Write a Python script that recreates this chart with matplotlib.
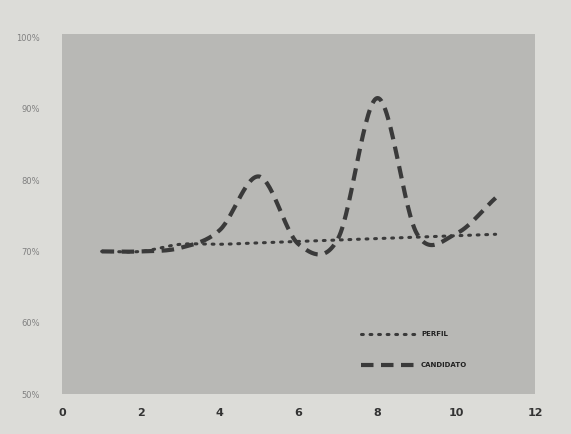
import numpy as np
import matplotlib
matplotlib.use("Agg")
import matplotlib.pyplot as plt
from matplotlib.ticker import FuncFormatter

x_vals = [1, 2, 3, 4, 5, 6, 7, 8, 9, 10, 11]
candidato = [70, 70, 70.5, 73, 80.5, 71, 71.8, 91.5, 72.5, 72.5, 77.5]
perfil = [70, 70, 71, 71, 71.2, 71.4, 71.6, 71.8, 72, 72.2, 72.4]
x_ticks = [0, 2, 4, 6, 8, 10, 12]
y_ticks = [50, 60, 70, 80, 90, 100]


def smooth(xs, ys, n=30):
    xs = np.asarray(xs, float); ys = np.asarray(ys, float)
    px = np.concatenate([[2 * xs[0] - xs[1]], xs, [2 * xs[-1] - xs[-2]]])
    py = np.concatenate([[2 * ys[0] - ys[1]], ys, [2 * ys[-1] - ys[-2]]])
    ox, oy = [], []
    for i in range(1, len(px) - 2):
        t = np.linspace(0, 1, n, endpoint=False)
        for P, out in ((px, ox), (py, oy)):
            p0, p1, p2, p3 = P[i - 1], P[i], P[i + 1], P[i + 2]
            out.extend(0.5 * ((2 * p1) + (-p0 + p2) * t + (2 * p0 - 5 * p1 + 4 * p2 - p3) * t ** 2
                              + (-p0 + 3 * p1 - 3 * p2 + p3) * t ** 3))
    ox.append(xs[-1]); oy.append(ys[-1])
    return np.array(ox), np.array(oy)


fig = plt.figure(figsize=(5.71, 4.34), dpi=100)
fig.patch.set_facecolor("#dcdcd8")
ax = fig.add_axes([0.109, 0.092, 0.828, 0.83])
ax.set_facecolor("#b8b8b5")
for s in ax.spines.values():
    s.set_visible(False)

line_col = "#3a3a3a"
sx, sy = smooth(x_vals, perfil)
ax.plot(sx, sy, color=line_col, lw=2.2, linestyle=(0, (0.6, 2.2)), dash_capstyle="round", label="PERFIL")
sx, sy = smooth(x_vals, candidato)
ax.plot(sx, sy, color=line_col, lw=3.0, linestyle=(0, (3.0, 1.8)), label="CANDIDATO")

ax.set_xlim(0, 12)
ax.set_ylim(50, 100.5)
ax.set_xticks(x_ticks)
ax.set_yticks(y_ticks)
ax.yaxis.set_major_formatter(FuncFormatter(lambda v, p: f"{int(v)}%"))
ax.tick_params(length=0)
ax.tick_params(axis="y", labelsize=6, labelcolor="#808080", pad=16)
ax.tick_params(axis="x", labelsize=8, labelcolor="#333333", pad=10)
for t in ax.get_xticklabels():
    t.set_fontweight("bold")

leg = ax.legend(loc="lower right", bbox_to_anchor=(0.87, 0.055), frameon=False, fontsize=5,
                handlelength=8.5, labelspacing=3.6, handletextpad=0.1)
for t in leg.get_texts():
    t.set_fontweight("bold")
    t.set_color("#222222")

fig.savefig("out.png", dpi=100, facecolor=fig.get_facecolor())
